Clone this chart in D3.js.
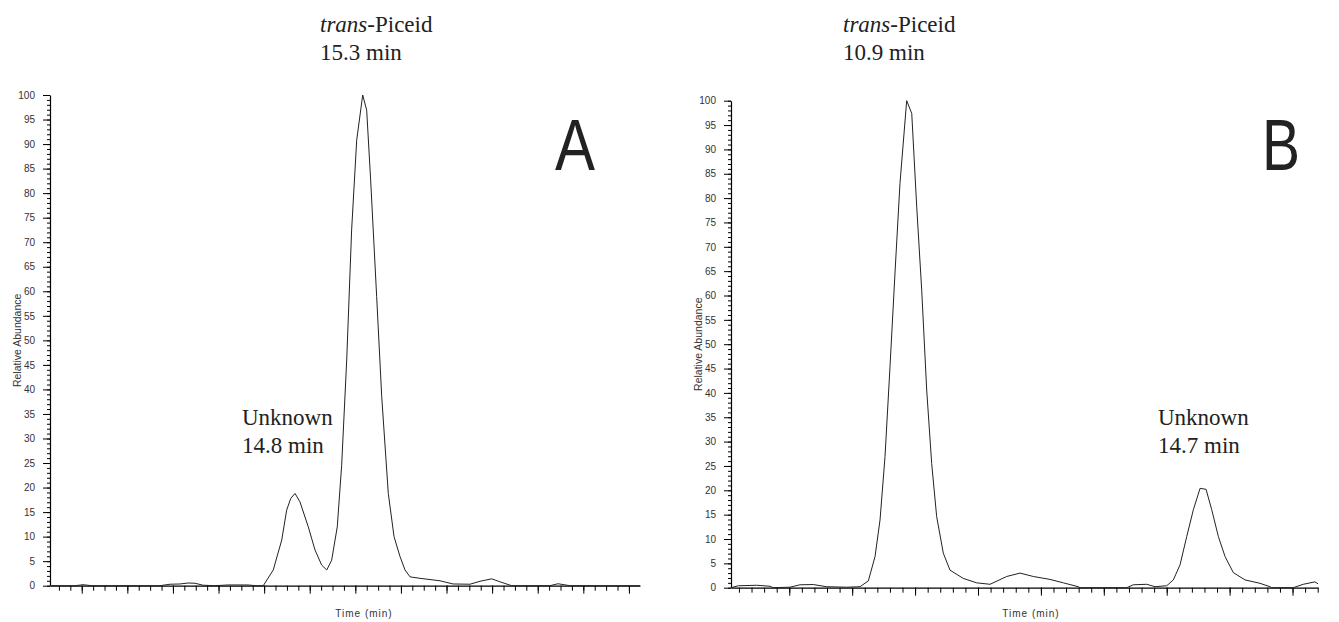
<!DOCTYPE html>
<html>
<head>
<meta charset="utf-8">
<script src="https://cdn.jsdelivr.net/npm/d3@7"></script>
<style>
    body { margin: 0; background: #fff; }
    svg { display: block; }
    .tick text { font-family: "Liberation Sans Narrow", "Liberation Sans", Arial, sans-serif; font-size: 10px; fill: #333; }
</style>
</head>
<body>
<div id="chart"></div>
<script>
// retention time (min) and relative abundance (%)
const timeA = [13.000, 13.183, 13.241, 13.307, 13.804, 13.877, 13.950, 14.009, 14.060, 14.118,
    14.206, 14.301, 14.447, 14.506, 14.559, 14.632, 14.694, 14.730, 14.760, 14.791,
    14.827, 14.888, 14.937, 14.986, 15.023, 15.059, 15.100, 15.132, 15.169, 15.205,
    15.242, 15.286, 15.315, 15.344, 15.388, 15.425, 15.473, 15.515, 15.558, 15.595,
    15.632, 15.705, 15.851, 15.946, 16.070, 16.143, 16.229, 16.289, 16.375, 16.655,
    16.713, 16.801, 17.313];
const abundanceA = [0, 0, 0.2, 0, 0, 0.3, 0.35, 0.55, 0.5, 0.1,
    0, 0.15, 0.15, 0, 0, 3.2, 9.3, 15.4, 17.8, 18.8,
    17.1, 12.0, 7.3, 4.2, 3.2, 5.2, 12.0, 24.5, 46.0, 72.5,
    90.8, 100, 96.9, 82.7, 58.9, 38.5, 18.8, 10.0, 6.0, 3.2,
    1.8, 1.5, 1.0, 0.35, 0.3, 0.9, 1.4, 0.8, 0, 0,
    0.4, 0, 0];

const timeB = [8.645, 8.739, 8.975, 9.146, 9.184, 9.402, 9.531, 9.701, 9.874, 10.130,
    10.301, 10.408, 10.494, 10.558, 10.622, 10.686, 10.750, 10.814, 10.900, 10.965,
    11.029, 11.093, 11.157, 11.221, 11.285, 11.370, 11.456, 11.627, 11.799, 11.970,
    12.184, 12.355, 12.526, 12.740, 12.911, 13.103, 13.125, 13.725, 13.809, 13.981,
    14.088, 14.238, 14.323, 14.409, 14.495, 14.580, 14.666, 14.743, 14.816, 14.901,
    14.987, 15.093, 15.243, 15.436, 15.564, 15.586, 15.863, 15.991, 16.141, 16.180];
const abundanceB = [0, 0.4, 0.5, 0.3, 0, 0.1, 0.6, 0.65, 0.2, 0.1,
    0.2, 1.4, 6.4, 13.9, 26.9, 45.4, 64.6, 83.0, 100, 97.4,
    78.2, 61.1, 40.6, 25.5, 14.6, 7.1, 3.6, 1.9, 1.0, 0.7,
    2.3, 3.0, 2.3, 1.7, 1.0, 0.2, 0, 0, 0.6, 0.7,
    0.2, 0.4, 1.6, 4.7, 10.5, 16.0, 20.4, 20.2, 16.0, 10.5,
    6.4, 3.1, 1.6, 0.9, 0.2, 0, 0, 0.7, 1.2, 0.8];

const yMajorTicks = d3.range(0, 101, 5);
const yMinorTicks = d3.range(0, 101, 1);

const width = 1339;
const height = 622;

const svg = d3.select("#chart")
    .append("svg")
    .attr("width", width)
    .attr("height", height)
    .attr("viewBox", [0, 0, width, height]);

function chromatogram(config) {
    const g = svg.append("g");
    const data = config.time.map((t, i) => ({x: t, y: config.abundance[i]}));

    const xScale = d3.scaleLinear()
        .domain(config.domain)
        .range([config.left, config.right]);
    const yScale = d3.scaleLinear()
        .domain([0, 100])
        .range([config.bottom, config.top]);

    // x axis: minor and major ticks, no labels
    const xMinor = d3.range(config.firstMajor - config.minorStep * config.minorBefore,
        config.domain[1] + 1e-6, config.minorStep);
    const xMajor = d3.range(config.firstMajor, config.domain[1] + 1e-6, config.minorStep * config.minorPerMajor);

    g.append("g")
        .attr("transform", `translate(0,${config.bottom})`)
        .call(d3.axisBottom(xScale).tickValues(xMinor).tickSize(5).tickSizeOuter(0).tickFormat(""))
        .call((a) => a.select(".domain").remove());
    g.append("g")
        .attr("transform", `translate(0,${config.bottom})`)
        .call(d3.axisBottom(xScale).tickValues(xMajor).tickSize(8).tickSizeOuter(0).tickFormat(""))
        .call((a) => a.select(".domain").attr("stroke-width", 1.2));

    g.append("g")
        .attr("transform", `translate(${config.left},0)`)
        .call(d3.axisLeft(yScale).tickValues(yMinorTicks).tickSize(3).tickFormat(""))
        .call((a) => a.select(".domain").remove());
    g.append("g")
        .attr("transform", `translate(${config.left},0)`)
        .call(d3.axisLeft(yScale).tickValues(yMajorTicks).tickSize(7).tickSizeOuter(0).tickPadding(8))
        .call((a) => a.select(".domain").attr("stroke-width", 1.2));

    g.append("text")
        .attr("transform", `translate(${config.left - 29},${(config.top + config.bottom) / 2}) rotate(270)`)
        .attr("text-anchor", "middle")
        .attr("font-family", "Liberation Sans, Arial, sans-serif")
        .attr("font-size", 10.5)
        .attr("fill", "#333")
        .text("Relative Abundance");

    g.append("text")
        .attr("x", config.timeLabelX)
        .attr("y", 617)
        .attr("text-anchor", "middle")
        .attr("font-family", "Liberation Sans, Arial, sans-serif")
        .attr("font-size", 10)
        .attr("letter-spacing", 1)
        .attr("fill", "#333")
        .text("Time (min)");

    g.append("path")
        .datum(data)
        .attr("d", d3.line().x((d) => xScale(d.x)).y((d) => yScale(d.y)))
        .attr("fill", "none")
        .attr("stroke", "#222")
        .attr("stroke-width", 1);

    // peak annotations
    const serif = "Liberation Serif, Times New Roman, serif";
    const main = g.append("text")
        .attr("x", config.mainLabel[0])
        .attr("y", config.mainLabel[1])
        .attr("font-family", serif)
        .attr("font-size", 23)
        .attr("fill", "#222");
    main.append("tspan").attr("font-style", "italic").text("trans");
    main.append("tspan").text("-Piceid");
    g.append("text")
        .attr("x", config.mainLabel[0])
        .attr("y", config.mainLabel[1] + 28)
        .attr("font-family", serif)
        .attr("font-size", 23)
        .attr("fill", "#222")
        .text(config.mainTime);

    g.append("text")
        .attr("x", config.unknownLabel[0])
        .attr("y", config.unknownLabel[1])
        .attr("font-family", serif)
        .attr("font-size", 23)
        .attr("fill", "#222")
        .text("Unknown");
    g.append("text")
        .attr("x", config.unknownLabel[0])
        .attr("y", config.unknownLabel[1] + 28)
        .attr("font-family", serif)
        .attr("font-size", 23)
        .attr("fill", "#222")
        .text(config.unknownTime);

    g.append("text")
        .attr("x", config.letterPos[0])
        .attr("y", config.letterPos[1])
        .attr("font-family", "Liberation Sans, Arial, sans-serif")
        .attr("font-size", 72)
        .attr("textLength", config.letterWidth)
        .attr("lengthAdjust", "spacingAndGlyphs")
        .attr("fill", "#222")
        .text(config.letter);
}

chromatogram({
    time: timeA,
    abundance: abundanceA,
    domain: [13.0, 17.313],
    left: 50, right: 640, top: 95, bottom: 585.7,
    firstMajor: 13.232, minorStep: 1 / 12, minorPerMajor: 4, minorBefore: 2,
    timeLabelX: 364,
    mainLabel: [320, 32], mainTime: "15.3 min",
    unknownLabel: [242, 425], unknownTime: "14.8 min",
    letter: "A", letterPos: [555, 170], letterWidth: 40,
});

chromatogram({
    time: timeB,
    abundance: abundanceB,
    domain: [8.645, 16.18],
    left: 731, right: 1318, top: 100.7, bottom: 587.7,
    firstMajor: 9.393, minorStep: 0.1615, minorPerMajor: 5, minorBefore: 4,
    timeLabelX: 1031,
    mainLabel: [843, 32], mainTime: "10.9 min",
    unknownLabel: [1158, 425], unknownTime: "14.7 min",
    letter: "B", letterPos: [1262, 170], letterWidth: 38,
});
</script>
</body>
</html>
